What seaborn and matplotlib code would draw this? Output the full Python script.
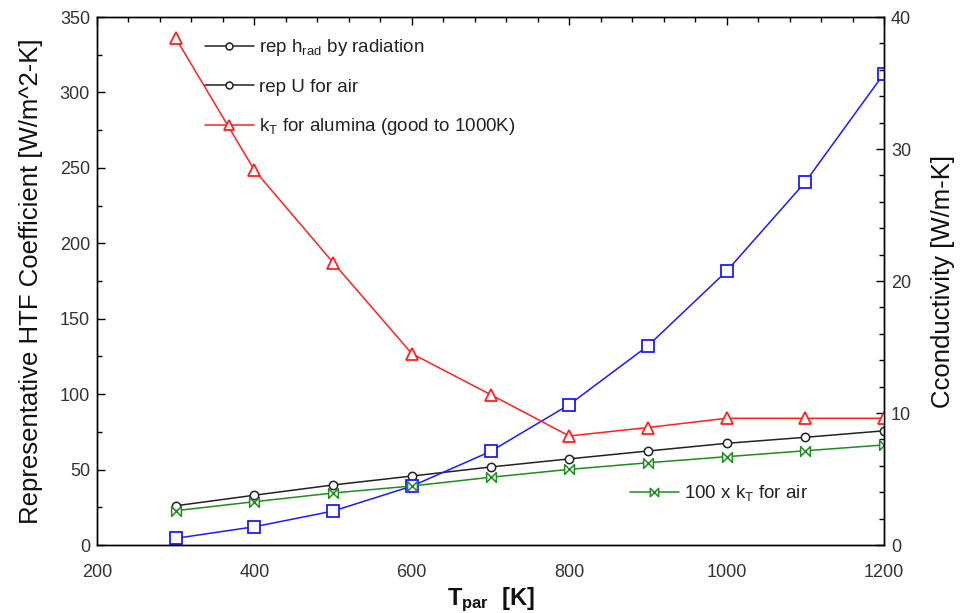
import numpy as np
import pandas as pd
import matplotlib
matplotlib.use("Agg")
import matplotlib.pyplot as plt
import seaborn as sns
from matplotlib.path import Path
from matplotlib.lines import Line2D
from matplotlib.ticker import MultipleLocator

# ---- data ----
T_par = [300, 400, 500, 600, 700, 800, 900, 1000, 1100, 1200]
h_rad = [4.4, 12.1, 22.5, 39.0, 62.0, 93.0, 132.0, 181.5, 240.6, 312.5]      # left axis (blue)
U_air = [26.0, 33.0, 39.8, 45.7, 51.7, 57.1, 62.3, 67.4, 71.4, 75.7]          # left axis (black)
k_alumina = [38.4, 28.4, 21.4, 14.5, 11.4, 8.26, 8.9, 9.6, 9.6, 9.6]         # right axis (red)
k_air_x100 = [2.6, 3.28, 3.94, 4.47, 5.13, 5.73, 6.23, 6.69, 7.14, 7.58]      # right axis (green)

labels = ["rep h$_{\\mathregular{rad}}$ by radiation", "rep U for air",
          "k$_{\\mathregular{T}}$ for alumina (good to 1000K)",
          "100 x k$_{\\mathregular{T}}$ for air"]

df = pd.DataFrame({"T": T_par, "h_rad": h_rad, "U_air": U_air,
                   "k_al": k_alumina, "k_air": k_air_x100})

sns.set_theme(style="white")
plt.rcParams["font.family"] = ["Liberation Sans", "DejaVu Sans"]
plt.rcParams["mathtext.fontset"] = "custom"
plt.rcParams["mathtext.rm"] = "Liberation Sans"
plt.rcParams["mathtext.bf"] = "Liberation Sans:bold"
plt.rcParams["mathtext.it"] = "Liberation Sans:italic"

fig = plt.figure(figsize=(9.6, 6.13), dpi=100)
ax = fig.add_axes([97/960, 1 - 545/613, (884-97)/960, (545-17)/613])
ax2 = ax.twinx()

bowtie = Path([(-1, -1), (-1, 1), (1, -1), (1, 1), (-1, -1)],
              [Path.MOVETO, Path.LINETO, Path.LINETO, Path.LINETO, Path.CLOSEPOLY])

BLUE = "#1a1aff"
RED = "#ff2020"
GREEN = "#1e8c1e"
BLACK = "#222222"

sns.lineplot(data=df, x="T", y="U_air", ax=ax, color=BLACK, linewidth=1.1,
             marker="o", markersize=6, markerfacecolor="white",
             markeredgecolor=BLACK, markeredgewidth=1.1)
sns.lineplot(data=df, x="T", y="h_rad", ax=ax, color=BLUE, linewidth=1.1,
             marker="s", markersize=9, markerfacecolor="white",
             markeredgecolor=BLUE, markeredgewidth=1.3)
sns.lineplot(data=df, x="T", y="k_al", ax=ax2, color=RED, linewidth=1.1,
             marker="^", markersize=8, markerfacecolor="white",
             markeredgecolor=RED, markeredgewidth=1.3)
sns.lineplot(data=df, x="T", y="k_air", ax=ax2, color=GREEN, linewidth=1.1,
             marker=bowtie, markersize=7, markerfacecolor="white",
             markeredgecolor=GREEN, markeredgewidth=1.1)

ax.set_xlim(200, 1200)
ax.set_ylim(0, 350)
ax2.set_ylim(0, 40)

ax.xaxis.set_major_locator(MultipleLocator(200))
ax.xaxis.set_minor_locator(MultipleLocator(40))
ax.yaxis.set_major_locator(MultipleLocator(50))
ax.yaxis.set_minor_locator(MultipleLocator(25))
ax2.yaxis.set_major_locator(MultipleLocator(10))
ax2.yaxis.set_minor_locator(MultipleLocator(2))

tick_color = "#333333"
ax.tick_params(axis="both", which="both", direction="in", top=True, right=False,
               labelsize=13, colors=tick_color, pad=5)
ax.tick_params(axis="both", which="major", length=6, width=1, color="black")
ax.tick_params(axis="both", which="minor", length=3.5, width=1, color="black")
ax.tick_params(axis="x", which="both", top=True, labeltop=False, pad=14)
ax2.tick_params(axis="y", which="both", direction="in", right=True, left=False,
                labelsize=13, colors=tick_color, pad=5)
ax2.tick_params(axis="y", which="major", length=6, width=1, color="black")
ax2.tick_params(axis="y", which="minor", length=3.5, width=1, color="black")

for a in (ax, ax2):
    for s in a.spines.values():
        s.set_color("black")
        s.set_linewidth(1.0)
        s.set_visible(True)
    a.grid(False)

ax.set_xlabel(r"$\mathbf{T_{par}}$  [K]", fontsize=17, fontweight="bold",
              color="#111111", labelpad=3)
ax.set_ylabel("Representative HTF Coefficient [W/m^2-K]", fontsize=18.5,
              color="#111111", labelpad=12)
ax2.set_ylabel("Cconductivity [W/m-K]", fontsize=18.5, color="#111111", labelpad=14)

h_black1 = Line2D([], [], color=BLACK, lw=1.1, marker="o", ms=5,
                  mfc="white", mec=BLACK, mew=1.1)
h_black2 = Line2D([], [], color=BLACK, lw=1.1, marker="o", ms=5,
                  mfc="white", mec=BLACK, mew=1.1)
h_red = Line2D([], [], color=RED, lw=1.1, marker="^", ms=7,
               mfc="white", mec=RED, mew=1.3)
h_green = Line2D([], [], color=GREEN, lw=1.1, marker=bowtie, ms=6,
                 mfc="white", mec=GREEN, mew=1.1)

leg1 = ax2.legend([h_black1, h_black2, h_red], labels[:3], loc="upper left",
                  bbox_to_anchor=(0.137, 0.962), frameon=False, fontsize=13.5,
                  handlelength=2.6, handletextpad=0.3, labelspacing=1.1,
                  borderpad=0, borderaxespad=0)
for t in leg1.get_texts():
    t.set_color("#222222")
ax2.add_artist(leg1)
leg2 = ax2.legend([h_green], labels[3:], loc="center left",
                  bbox_to_anchor=(0.677, 0.098), frameon=False, fontsize=13.5,
                  handlelength=2.6, handletextpad=0.3, borderpad=0, borderaxespad=0)
for t in leg2.get_texts():
    t.set_color("#222222")

fig.savefig("out.png", dpi=100, facecolor="white")
